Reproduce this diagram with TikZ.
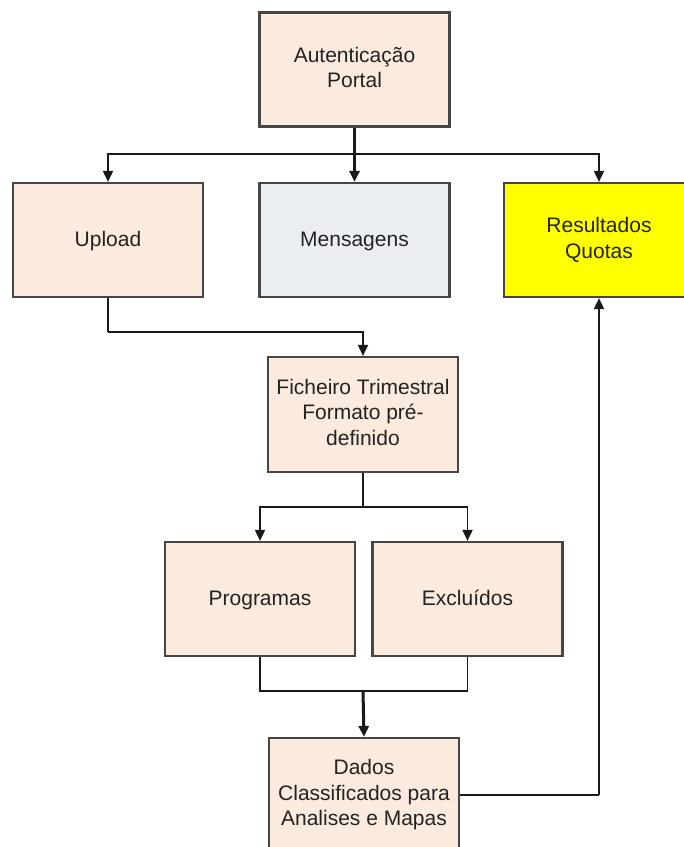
\documentclass[tikz,border=0pt]{standalone}
\usepackage{fontspec}
\setmainfont{Liberation Sans}
\usetikzlibrary{arrows.meta}
\definecolor{peach}{RGB}{251,234,222}
\definecolor{bluegray}{RGB}{234,238,243}
\definecolor{boxline}{RGB}{70,70,70}
\definecolor{txt}{RGB}{35,35,35}
\definecolor{brightyellow}{RGB}{255,255,0}
\tikzset{
  blockbox/.style={draw=boxline, line width=2.2pt, fill=peach, minimum width=190pt, minimum height=114pt,
    inner sep=0pt, align=center, text=txt, font=\fontsize{21}{25.5}\selectfont,
    execute at begin node=\vphantom{Íg}, execute at end node=\vphantom{Íg}},
  conn/.style={draw=black!90, line width=1.8pt},
  thickconn/.style={draw=black!90, line width=3pt},
  arr/.style={-{Triangle[length=11pt,width=10pt]}}
}
\begin{document}
\begin{tikzpicture}[x=1pt,y=-1pt]
\useasboundingbox (0,0) rectangle (684,847);
\clip (0,0) rectangle (684,847);
\fill[white] (0,0) rectangle (684,847);

\node[blockbox] (auth) at (354.5,69.5) {Autenticação\\Portal};
\node[blockbox] (upload) at (108,240) {Upload};
\node[blockbox, fill=bluegray] (msg) at (354.5,240) {Mensagens};
\node[blockbox, fill=brightyellow] (res) at (599,240) {Resultados\\Quotas};
\node[blockbox, minimum height=115pt] (fich) at (363,414.5) {Ficheiro Trimestral\\Formato pré-\\definido};
\node[blockbox] (prog) at (260,599) {Programas};
\node[blockbox] (excl) at (467.5,599) {Excluídos};
\node[blockbox] (dados) at (364,795) {Dados\\Classificados para\\Analises e Mapas};

\coordinate (t1) at (354.5,154);
\coordinate (u1) at (108,332);
\coordinate (f1) at (363,507);
\coordinate (m1) at (363,691);
\coordinate (r1) at (599,795);

% top distribution
\draw[thickconn, arr] (auth.south) -- (msg.north);
\draw[conn, arr] (t1) -| (upload.north);
\draw[conn, arr] (t1) -| (res.north);

% upload to ficheiro
\draw[conn] (upload.south) -- (u1);
\draw[conn, arr] (u1) -| (fich.north);

% ficheiro split
\draw[conn] (fich.south) -- (f1);
\draw[conn, arr] (f1) -| (prog.north);
\draw[conn, arr] (f1) -| (excl.north);

% merge
\draw[conn] (prog.south) |- (m1) -| (excl.south);
\draw[thickconn, arr] (m1) -- (dados.north);

% feedback to resultados
\draw[conn] (dados.east |- r1) -- (r1);
\draw[conn, arr] (r1) -- (res.south);
\end{tikzpicture}
\end{document}
